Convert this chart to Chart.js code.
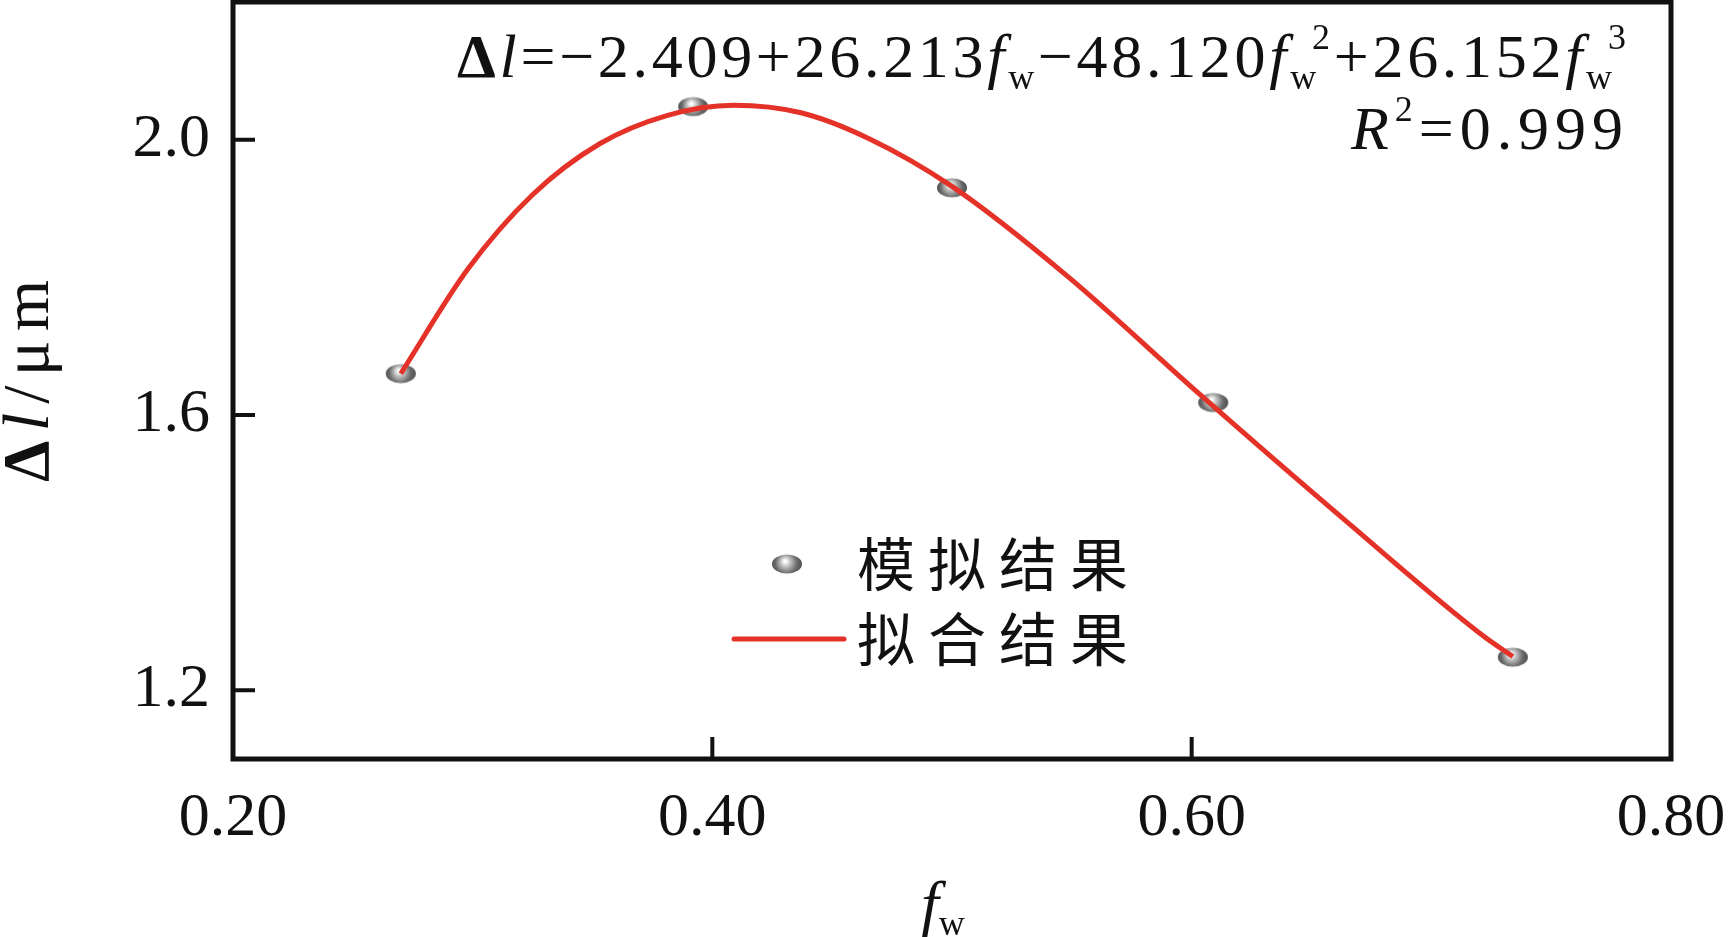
<!DOCTYPE html>
<html>
<head>
<meta charset="utf-8">
<script src="https://cdn.jsdelivr.net/npm/chart.js@4.4.1/dist/chart.umd.min.js"></script>
<style>
html, body { margin: 0; padding: 0; background: #fff; }
#wrap { width: 1734px; height: 937px; }
</style>
</head>
<body>
<div id="wrap"><canvas id="chart" width="1734" height="937"></canvas></div>
<script>
// valores
const simX = [0.270, 0.392, 0.500, 0.609, 0.734];
const simY = [1.660, 2.048, 1.930, 1.618, 1.248];

// curva ajustada, pontos lidos ao longo da linha vermelha
const fitX = [0.270, 0.298, 0.325, 0.353, 0.381, 0.409, 0.437, 0.465, 0.500, 0.548, 0.604, 0.666, 0.722, 0.734];
const fitY = [1.660, 1.812, 1.920, 1.994, 2.035, 2.050, 2.039, 2.002, 1.932, 1.802, 1.628, 1.441, 1.278, 1.249];

const xTicks = [0.20, 0.40, 0.60, 0.80];
const yTicks = [1.2, 1.6, 2.0];
const legendLabels = ["模拟结果", "拟合结果"];

const SERIF = '"Liberation Serif", "Times New Roman", serif';
const CJK = '"Noto Sans CJK SC", sans-serif';
const RED = '#e53228';

// bolinha cinza usada como marcador
function makeBall() {
    const c = document.createElement('canvas');
    c.width = 32; c.height = 22;
    const g = c.getContext('2d');
    const grad = g.createRadialGradient(14, 8, 1, 16, 11, 16);
    grad.addColorStop(0, '#ffffff');
    grad.addColorStop(0.25, '#c4c4c4');
    grad.addColorStop(0.65, '#6a6a6a');
    grad.addColorStop(1, '#4a4a4a');
    g.fillStyle = grad;
    g.beginPath();
    g.ellipse(16, 11, 15, 9.5, 0, 0, Math.PI * 2);
    g.fill();
    return c;
}
const ball = makeBall();

// desenha trechos de texto com estilos diferentes, ajustando o espaçamento à largura pedida
function drawRuns(ctx, runs, xLeft, baseline, width) {
    let natural = 0, n = 0;
    runs.forEach(r => {
        ctx.font = r.font;
        for (const ch of r.t) { natural += ctx.measureText(ch).width * (r.adv ?? 1); n++; }
    });
    const sp = width ? (width - natural) / Math.max(n - 1, 1) : 0;
    let x = xLeft;
    ctx.textBaseline = 'alphabetic';
    ctx.textAlign = 'left';
    runs.forEach(r => {
        ctx.font = r.font;
        for (const ch of r.t) {
            ctx.fillText(ch, x, baseline + (r.dy || 0));
            x += ctx.measureText(ch).width * (r.adv ?? 1) + sp;
        }
    });
}

const big = '62px ' + SERIF;
const bigI = 'italic 62px ' + SERIF;
const small = '36px ' + SERIF;

const textPlugin = {
    id: 'textPlugin',
    afterDraw(chart) {
        const ctx = chart.ctx;
        const area = chart.chartArea;
        const xs = chart.scales.x, ys = chart.scales.y;
        ctx.save();

        // moldura
        ctx.strokeStyle = '#111';
        ctx.lineWidth = 5;
        ctx.strokeRect(area.left, area.top, area.right - area.left, area.bottom - area.top);

        // marcas internas
        ctx.lineWidth = 4;
        ctx.beginPath();
        yTicks.forEach(v => {
            const py = ys.getPixelForValue(v);
            ctx.moveTo(area.left, py); ctx.lineTo(area.left + 22, py);
        });
        xTicks.slice(1, -1).forEach(v => {
            const px = xs.getPixelForValue(v);
            ctx.moveTo(px, area.bottom); ctx.lineTo(px, area.bottom - 22);
        });
        ctx.stroke();

        ctx.fillStyle = '#111';

        // equação
        drawRuns(ctx, [
            { t: 'Δ', font: 'bold 62px ' + SERIF },
            { t: 'l', font: bigI },
            { t: '=−2.409+26.213', font: big },
            { t: 'f', font: bigI },
            { t: 'w', font: small, dy: 12 },
            { t: '−48.120', font: big },
            { t: 'f', font: bigI },
            { t: 'w', font: small, dy: 12, adv: 0.7 },
            { t: '2', font: small, dy: -28 },
            { t: '+26.152', font: big },
            { t: 'f', font: bigI },
            { t: 'w', font: small, dy: 12, adv: 0.7 },
            { t: '3', font: small, dy: -28 }
        ], 457, 77, 1169);

        drawRuns(ctx, [
            { t: 'R', font: bigI },
            { t: '2', font: small, dy: -28 },
            { t: '=0.999', font: big }
        ], 1351, 149, 272);

        // título do eixo y
        ctx.save();
        ctx.translate(48, 381);
        ctx.rotate(-Math.PI / 2);
        drawRuns(ctx, [
            { t: 'Δ', font: 'bold 66px ' + SERIF },
            { t: 'l', font: 'italic 66px ' + SERIF },
            { t: '/μm', font: '66px ' + SERIF }
        ], -101, 0, 202);
        ctx.restore();

        // título do eixo x
        drawRuns(ctx, [
            { t: 'f', font: 'italic 64px ' + SERIF },
            { t: 'w', font: small, dy: 10 }
        ], 921, 925, 0);

        // legenda
        ctx.drawImage(ball, 787 - 16, 564 - 11);
        ctx.strokeStyle = RED;
        ctx.lineWidth = 5;
        ctx.lineCap = 'round';
        ctx.beginPath();
        ctx.moveTo(734, 639); ctx.lineTo(844, 639);
        ctx.stroke();

        ctx.fillStyle = '#111';
        ctx.font = '58px ' + CJK;
        ctx.textBaseline = 'middle';
        [564, 639].forEach((y, i) => {
            let x = 857;
            for (const ch of legendLabels[i]) {
                ctx.fillText(ch, x, y);
                x += ctx.measureText(ch).width + 13;
            }
        });
        ctx.restore();
    }
};

const ctx = document.getElementById('chart').getContext('2d');

const chart = new Chart(ctx, {
    type: 'scatter',
    data: {
        datasets: [
            {
                label: legendLabels[1],
                data: fitX.map((x, i) => ({ x: x, y: fitY[i] })),
                showLine: true,
                borderColor: RED,
                borderWidth: 5,
                pointRadius: 0,
                cubicInterpolationMode: 'monotone',
                order: 0
            },
            {
                label: legendLabels[0],
                data: simX.map((x, i) => ({ x: x, y: simY[i] })),
                pointStyle: ball,
                pointRadius: 15,
                order: 1
            }
        ]
    },
    options: {
        responsive: false,
        animation: false,
        layout: { autoPadding: false, padding: { top: 2, right: 63, left: 0, bottom: 0 } },
        plugins: {
            legend: { display: false },
            tooltip: { enabled: false }
        },
        scales: {
            x: {
                type: 'linear',
                min: 0.2,
                max: 0.8,
                afterBuildTicks: s => { s.ticks = xTicks.map(v => ({ value: v })); },
                afterFit: s => { s.height = 178; s.paddingLeft = 0; s.paddingRight = 0; },
                grid: { display: false, drawTicks: false },
                border: { display: false },
                ticks: {
                    padding: 23,
                    color: '#111',
                    font: { family: SERIF, size: 62 },
                    maxRotation: 0,
                    callback: v => Number(v).toFixed(2)
                }
            },
            y: {
                type: 'linear',
                min: 1.1,
                max: 2.2,
                afterBuildTicks: s => { s.ticks = yTicks.map(v => ({ value: v })); },
                afterFit: s => { s.width = 233; s.paddingTop = 0; s.paddingBottom = 0; },
                grid: { display: false, drawTicks: false },
                border: { display: false },
                ticks: {
                    padding: 23,
                    color: '#111',
                    font: { family: SERIF, size: 62 },
                    callback: v => Number(v).toFixed(1)
                }
            }
        }
    },
    plugins: [textPlugin]
});
</script>
</body>
</html>
